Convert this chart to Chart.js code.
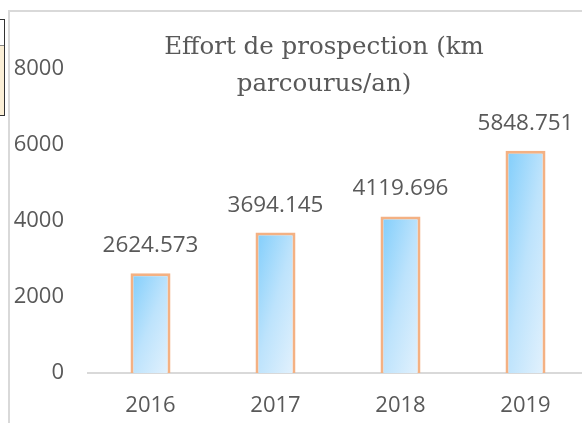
<!DOCTYPE html>
<html>
<head>
<meta charset="utf-8">
<script src="https://cdn.jsdelivr.net/npm/chart.js@4.4.1/dist/chart.umd.min.js"></script>
<style>
  html, body { margin: 0; padding: 0; background: #fff; overflow: hidden; width: 582px; height: 423px; }
  #frame {
    position: absolute; left: 8px; top: 10px;
    width: 626px; height: 440px;
    border: 2px solid #d9d9d9; background: #fff;
  }
  #side {
    position: absolute; left: -2px; top: 19px; width: 5px; height: 95px;
    border: 1px solid #333; background: #fbefd6;
  }
  #side div { height: 25px; background: #fff; border-bottom: 1px solid #888; }
</style>
</head>
<body>
<div id="side"><div></div></div>
<div id="frame"><canvas id="chart" width="626" height="440"></canvas></div>
<script>
// ---------- data ----------
const years  = ["2016", "2017", "2018", "2019"];
const effort = [2624.573, 3694.145, 4119.696, 5848.751];
const yTicks = [0, 2000, 4000, 6000, 8000];
const titleLines = ["Effort de prospection (km", "parcourus/an)"];

const GREY = "#595959";
const BAR_W = 40;

// ---------- helpers ----------
// diagonal gradient that scales with the bar (top-left dark -> bottom-right light)
function barGradient(ctx) {
  const chart = ctx.chart;
  const { x, y } = chart.scales;
  if (!x || !y || ctx.parsed == null) return "#a6dcfb";
  const cx = x.getPixelForValue(ctx.dataIndex);
  const top = y.getPixelForValue(ctx.parsed.y);
  const bottom = y.getPixelForValue(0);
  if (![cx, top, bottom].every(Number.isFinite)) return "#a6dcfb";
  const w = BAR_W, h = Math.max(bottom - top, 1);
  const k = (2 * w * h) / (w * w + h * h);
  const x0 = cx - w / 2, y0 = top;
  const g = chart.ctx.createLinearGradient(x0, y0, x0 + k * h, y0 + k * w);
  g.addColorStop(0, "#7fcdfb");
  g.addColorStop(0.5, "#bde3fc");
  g.addColorStop(1, "#e4f2fd");
  return g;
}

// title is drawn over the plot area, like the Excel original
const overlayTitle = {
  id: "overlayTitle",
  afterDraw(chart) {
    const c = chart.ctx;
    c.save();
    c.font = "24.5px 'DejaVu Serif', serif";
    c.fillStyle = GREY;
    c.textAlign = "center";
    c.textBaseline = "alphabetic";
    c.fillText(titleLines[0], 314, 42);
    c.fillText(titleLines[1], 314, 79);
    c.restore();
  },
};

// value labels above each bar
const valueLabels = {
  id: "valueLabels",
  afterDatasetsDraw(chart) {
    const c = chart.ctx;
    const meta = chart.getDatasetMeta(0);
    c.save();
    c.font = "22.5px 'Open Sans', sans-serif";
    c.fillStyle = GREY;
    c.textAlign = "center";
    c.textBaseline = "alphabetic";
    meta.data.forEach((bar, i) => {
      c.fillText(effort[i].toFixed(3), bar.x, bar.y - 21);
    });
    c.restore();
  },
};

// ---------- chart ----------
new Chart(document.getElementById("chart"), {
  type: "bar",
  data: {
    labels: years,
    datasets: [
      {
        data: effort,
        backgroundColor: barGradient,
        borderColor: "#f4b183",
        borderWidth: 3,
        barPercentage: 0.8,
        categoryPercentage: 0.4,
      },
    ],
  },
  options: {
    responsive: false,
    animation: false,
    layout: { padding: { top: 57, right: 48, left: 0, bottom: 0 } },
    plugins: {
      legend: { display: false },
      title: { display: false },
      tooltip: { enabled: false },
    },
    scales: {
      y: {
        min: 0,
        max: 8000,
        afterBuildTicks: (s) => { s.ticks = yTicks.map((v) => ({ value: v })); },
        afterFit: (s) => { s.width = 78; },
        grid: { display: false, drawTicks: false },
        border: { display: false },
        ticks: {
          color: GREY,
          padding: 24,
          callback: (v) => String(v),
          font: { family: "'Open Sans', sans-serif", size: 22 },
        },
      },
      x: {
        afterFit: (s) => { s.height = 440 - 361; },
        grid: { display: false, drawTicks: false },
        border: { display: true, color: "#d9d9d9", width: 2 },
        ticks: { color: GREY, padding: 20, font: { family: "'Open Sans', sans-serif", size: 22 } },
      },
    },
  },
  plugins: [overlayTitle, valueLabels],
});
</script>
</body>
</html>
